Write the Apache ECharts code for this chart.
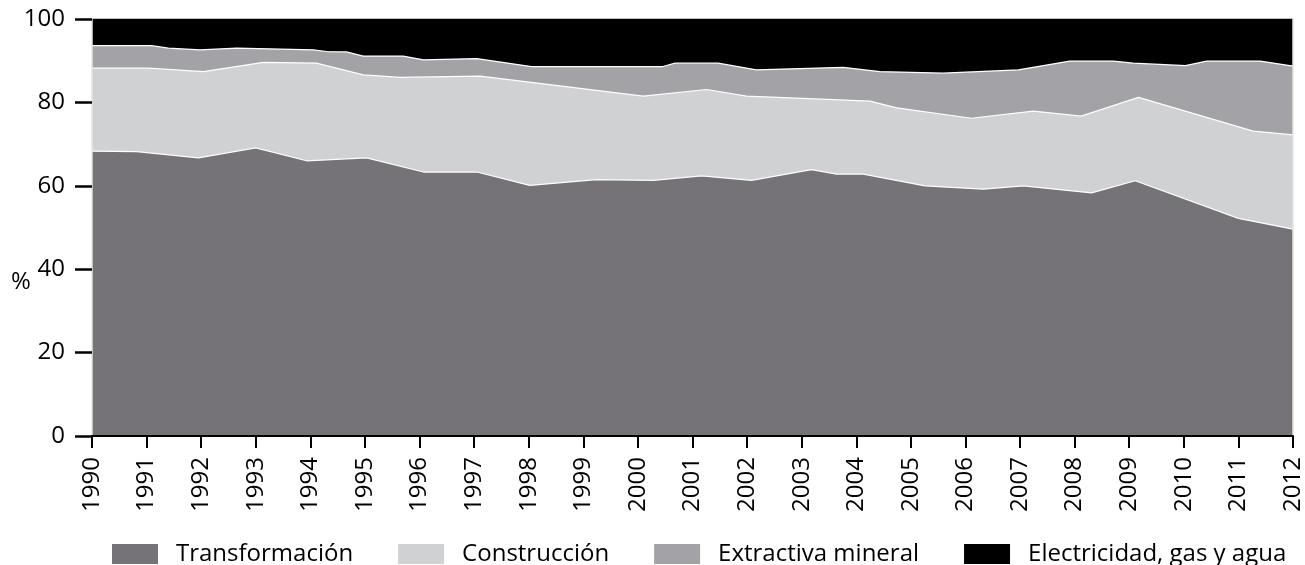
<!DOCTYPE html>
<html>
<head>
<meta charset="utf-8">
<script src="https://cdn.jsdelivr.net/npm/echarts@6/dist/echarts.min.js"></script>
<style>
  html, body { margin: 0; padding: 0; background: #fff; }
  #chart { width: 1305px; height: 565px; }
</style>
</head>
<body>
<div id="chart"></div>
<script>
// upper edge of each band, in cumulative % ([year, %])
var transformacion = [[1990,68.3],[1990.82,68.2],[1991.95,66.7],[1993.0,69.1],[1993.93,66.0],[1995.03,66.7],[1996.07,63.3],[1997.05,63.3],[1998.02,60.1],[1999.24,61.5],[2000.28,61.3],[2001.17,62.4],[2002.08,61.3],[2003.18,63.9],[2003.64,62.8],[2004.13,62.8],[2005.26,60.0],[2006.33,59.2],[2007.06,60.0],[2008.31,58.3],[2009.11,61.2],[2011.0,52.2],[2012,49.6]];
var construccion = [[1990,88.2],[1991.03,88.2],[1992.04,87.4],[1993.14,89.6],[1994.11,89.4],[1994.97,86.6],[1995.64,86.0],[1997.11,86.3],[2000.1,81.5],[2001.26,83.1],[2001.99,81.5],[2004.25,80.3],[2004.74,78.7],[2006.11,76.2],[2007.24,77.9],[2008.12,76.7],[2009.17,81.2],[2011.27,73.1],[2012,72.2]];
var extractiva = [[1990,93.6],[1991.09,93.6],[1991.40,93.0],[1991.98,92.6],[1992.65,93.0],[1994.05,92.6],[1994.30,92.2],[1994.66,92.1],[1994.97,91.1],[1995.70,91.1],[1996.07,90.2],[1997.05,90.5],[1998.05,88.6],[2000.46,88.6],[2000.68,89.4],[2001.47,89.4],[2002.17,87.8],[2003.76,88.4],[2004.43,87.4],[2005.59,87.0],[2006.97,87.8],[2007.91,89.9],[2008.71,89.9],[2009.07,89.4],[2010.03,88.8],[2010.42,89.9],[2011.40,89.9],[2012,88.7]];
var electricidad = [[1990,100],[2012,100]];

var names = ['Transformación', 'Construcción', 'Extractiva mineral', 'Electricidad, gas y agua'];
var colors = ['#767378', '#d0d1d3', '#a3a2a6', '#000000'];

var chart = echarts.init(document.getElementById('chart'));

function band(name, data, color, lineColor) {
	return {
		name: name,
		type: 'line',
		data: data,
		symbol: 'none',
		silent: true,
		itemStyle: { color: color },
		lineStyle: { color: lineColor, width: 1.2 },
		areaStyle: { color: color, opacity: 1 }
	};
}

var option = {
	animation: false,
	textStyle: { fontFamily: 'Open Sans' },
	grid: { left: 92, right: 12, top: 19, bottom: 129 },
	legend: {
		top: 537,
		left: 107,
		itemWidth: 46,
		itemHeight: 20,
		itemGap: 45,
		icon: 'rect',
		data: names,
		textStyle: { fontSize: 24, color: '#000', padding: [0, 0, 0, 13] }
	},
	graphic: [{
		type: 'text',
		left: 11,
		top: 270,
		style: { text: '%', fontSize: 24, fill: '#000', fontFamily: 'Open Sans' }
	}],
	xAxis: {
		type: 'value',
		min: 1990,
		max: 2012,
		interval: 1,
		z: 5,
		splitLine: { show: false },
		axisLine: { lineStyle: { color: '#000', width: 2 } },
		axisTick: { length: 12, lineStyle: { color: '#000', width: 2 } },
		axisLabel: {
			rotate: 90,
			fontSize: 24,
			color: '#000',
			margin: 21,
			formatter: function (v) { return String(v); }
		}
	},
	yAxis: [{
		type: 'value',
		min: 0,
		max: 100,
		interval: 20,
		z: 5,
		splitLine: { show: false },
		axisLine: { show: true, lineStyle: { color: '#e4e4e4', width: 1.5 } },
		axisTick: { show: true, length: 17, lineStyle: { color: '#000', width: 2.5 } },
		axisLabel: { fontSize: 24, color: '#000', margin: 27 }
	}, {
		type: 'value',
		position: 'right',
		min: 0,
		max: 100,
		z: 5,
		splitLine: { show: false },
		axisLine: { show: true, lineStyle: { color: '#e4e4e4', width: 1.5 } },
		axisTick: { show: false },
		axisLabel: { show: false }
	}],
	series: [
		band(names[3], electricidad, colors[3], '#000'),
		band(names[2], extractiva, colors[2], '#fff'),
		band(names[1], construccion, colors[1], '#fff'),
		band(names[0], transformacion, colors[0], '#fff')
	]
};
chart.setOption(option);
</script>
</body>
</html>
